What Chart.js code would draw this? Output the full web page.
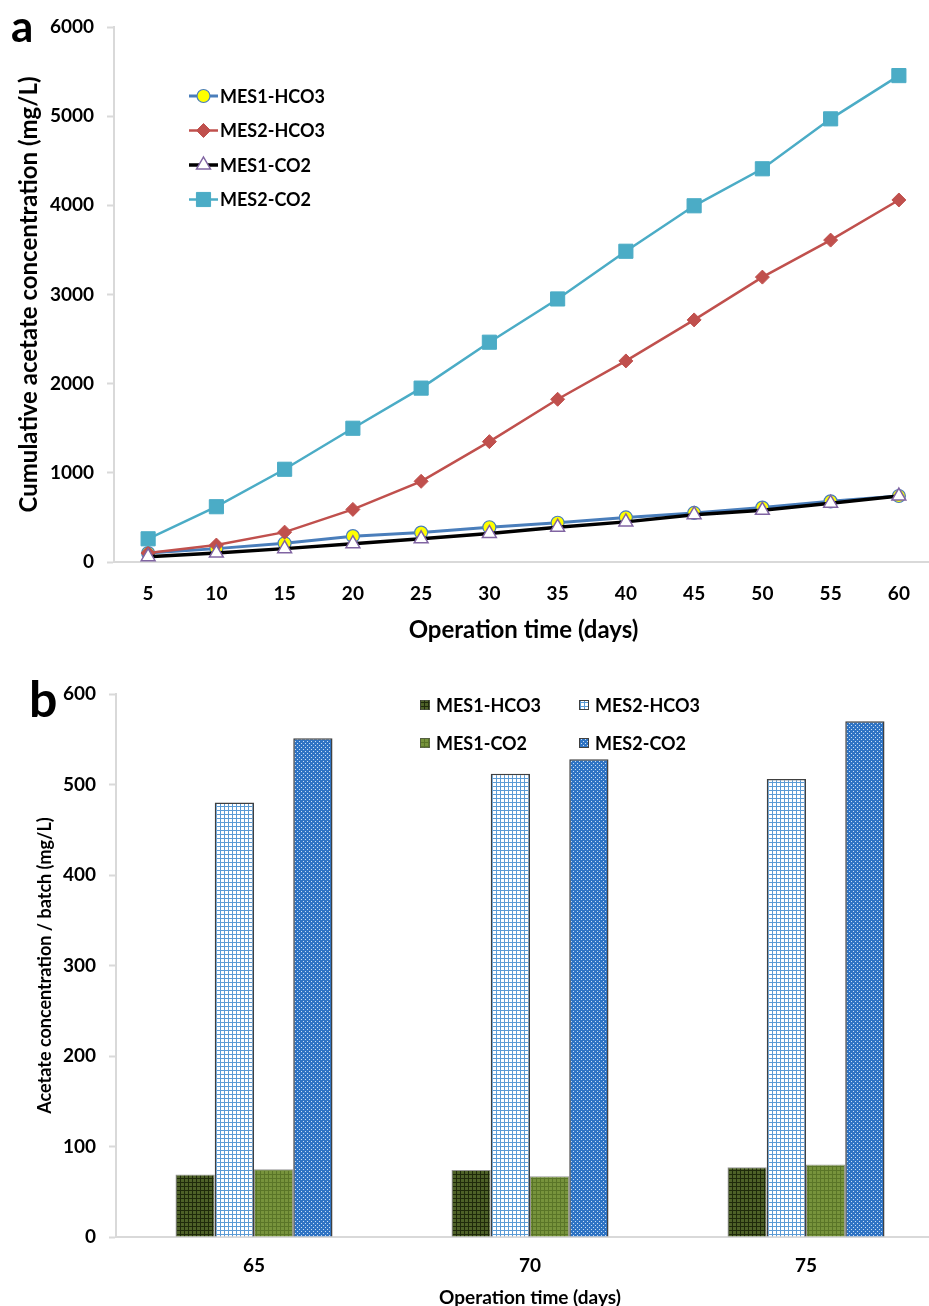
<!DOCTYPE html>
<html>
<head>
<meta charset="utf-8">
<title>Acetate production</title>
<script src="https://cdn.jsdelivr.net/npm/chart.js@4.4.1/dist/chart.umd.min.js"></script>
<style>
    html, body { margin: 0; padding: 0; background: #fff; width: 929px; height: 1306px; overflow: hidden; }
    .panel { position: absolute; left: 0; }
    .tag { position: absolute; font-family: Lato, sans-serif; font-weight: 700; line-height: 1; color: #000; z-index: 2; }
</style>
</head>
<body>
<canvas id="cumulative-chart" class="panel" style="top:0" width="945" height="650"></canvas>
<canvas id="batch-chart" class="panel" style="top:650px" width="950" height="680"></canvas>
<div class="tag" style="left:11px; top:3px; font-size:44px;">a</div>
<div class="tag" style="left:29px; top:673px; font-size:50px;">b</div>

<script>
// ---- data ----
const seriesNames = ['MES1-HCO3', 'MES2-HCO3', 'MES1-CO2', 'MES2-CO2'];

// panel a: cumulative acetate (mg/L)
const days = ['5', '10', '15', '20', '25', '30', '35', '40', '45', '50', '55', '60'];
const mes1Hco3 = [100, 150, 210, 290, 330, 390, 440, 500, 550, 610, 680, 740];
const mes2Hco3 = [100, 190, 335, 590, 905, 1350, 1825, 2255, 2715, 3195, 3610, 4060];
const mes1Co2 = [60, 100, 150, 205, 260, 320, 390, 450, 530, 580, 660, 740];
const mes2Co2 = [260, 620, 1040, 1500, 1950, 2465, 2950, 3485, 3995, 4410, 4970, 5455];

// panel b: acetate per batch (mg/L)
const batchDays = ['65', '70', '75'];
const batchMes1Hco3 = [69, 74, 77];
const batchMes2Hco3 = [480, 512, 506];
const batchMes1Co2 = [75, 67, 80];
const batchMes2Co2 = [551, 528, 570];

// ---- shared look ----
Chart.defaults.font.family = 'Lato, "Open Sans", sans-serif';
Chart.defaults.font.weight = 'bold';
Chart.defaults.color = '#000';

const axisGray = '#d9d9d9';

// fill patterns for the bars (Excel-style hatches)
function gridPattern(bg, line, size) {
    const c = document.createElement('canvas');
    c.width = size;
    c.height = size;
    const g = c.getContext('2d');
    g.fillStyle = bg;
    g.fillRect(0, 0, size, size);
    g.fillStyle = line;
    g.fillRect(0, 0, size, 1);
    g.fillRect(0, 0, 1, size);
    return g.createPattern(c, 'repeat');
}

function checkerPattern(bg, dot) {
    const c = document.createElement('canvas');
    c.width = 4;
    c.height = 4;
    const g = c.getContext('2d');
    g.fillStyle = bg;
    g.fillRect(0, 0, 4, 4);
    g.fillStyle = dot;
    g.fillRect(1, 1, 1, 1);
    g.fillRect(3, 3, 1, 1);
    return g.createPattern(c, 'repeat');
}

const barFills = [
    gridPattern('#4e6128', '#1f2a0b', 4),
    gridPattern('#ffffff', '#5b9bd5', 4),
    gridPattern('#77933c', '#5a7528', 4),
    checkerPattern('#2f74c4', '#c9dff5')
];
const barBorders = ['rgba(80,80,80,0.6)', '#404040', 'rgba(80,80,80,0.6)', '#404040'];

// plain numbers on the value axes (no thousands separator)
const plainTick = value => String(value);

// marker drawing for the legend of panel a
function drawMarker(ctx, style, x, y, r, fill, stroke, lw) {
    ctx.save();
    ctx.beginPath();
    if (style === 'circle') {
        ctx.arc(x, y, r, 0, Math.PI * 2);
    } else if (style === 'rectRot') {
        ctx.moveTo(x, y - r);
        ctx.lineTo(x + r, y);
        ctx.lineTo(x, y + r);
        ctx.lineTo(x - r, y);
    } else if (style === 'triangle') {
        ctx.moveTo(x, y - r);
        ctx.lineTo(x + r * 0.866, y + r * 0.5);
        ctx.lineTo(x - r * 0.866, y + r * 0.5);
    } else {
        const s = r * Math.SQRT1_2;
        ctx.rect(x - s, y - s, 2 * s, 2 * s);
    }
    ctx.closePath();
    ctx.fillStyle = fill;
    ctx.fill();
    ctx.lineWidth = lw;
    ctx.strokeStyle = stroke;
    ctx.stroke();
    ctx.restore();
}

// legend inside the plot of panel a (vertical list)
const lineLegend = {
    id: 'lineLegend',
    afterDraw(chart, args, opts) {
        const ctx = chart.ctx;
        ctx.save();
        ctx.font = 'bold ' + opts.fontSize + 'px ' + Chart.defaults.font.family;
        ctx.textBaseline = 'middle';
        ctx.fillStyle = '#000';
        chart.data.datasets.forEach((ds, i) => {
            const y = opts.y + i * opts.rowGap;
            ctx.beginPath();
            ctx.moveTo(opts.x, y);
            ctx.lineTo(opts.x + opts.lineLength, y);
            ctx.strokeStyle = ds.borderColor;
            ctx.lineWidth = ds.borderWidth;
            ctx.stroke();
            drawMarker(ctx, ds.pointStyle, opts.x + opts.lineLength / 2, y, ds.pointRadius,
                ds.pointBackgroundColor, ds.pointBorderColor, ds.pointBorderWidth);
            ctx.fillText(ds.label, opts.x + opts.lineLength + 2, y + 1);
        });
        ctx.restore();
    }
};

// legend of panel b (2 x 2 grid of pattern swatches)
const barLegend = {
    id: 'barLegend',
    afterDraw(chart, args, opts) {
        const ctx = chart.ctx;
        ctx.save();
        ctx.font = 'bold ' + opts.fontSize + 'px ' + Chart.defaults.font.family;
        ctx.textBaseline = 'middle';
        chart.data.datasets.forEach((ds, i) => {
            const x = opts.cols[i % 2];
            const y = opts.rows[Math.floor(i / 2)];
            const s = opts.box;
            ctx.fillStyle = ds.backgroundColor;
            ctx.fillRect(x, y - s / 2, s, s);
            ctx.strokeStyle = ds.borderColor;
            ctx.lineWidth = 1;
            ctx.strokeRect(x + 0.5, y - s / 2 + 0.5, s - 1, s - 1);
            ctx.fillStyle = '#000';
            ctx.fillText(ds.label, x + s + 6, y + 1);
        });
        ctx.restore();
    }
};

// ---- panel a ----
new Chart(document.getElementById('cumulative-chart'), {
    type: 'line',
    data: {
        labels: days,
        datasets: [
            {
                label: seriesNames[0],
                data: mes1Hco3,
                borderColor: '#4a7ebb',
                borderWidth: 3,
                pointStyle: 'circle',
                pointRadius: 6.5,
                pointBackgroundColor: '#ffff00',
                pointBorderColor: '#4a7ebb',
                pointBorderWidth: 1.2,
                order: 4
            },
            {
                label: seriesNames[1],
                data: mes2Hco3,
                borderColor: '#c0504d',
                borderWidth: 2.5,
                pointStyle: 'rectRot',
                pointRadius: 7,
                pointBackgroundColor: '#c0504d',
                pointBorderColor: '#c0504d',
                pointBorderWidth: 1,
                order: 3
            },
            {
                label: seriesNames[2],
                data: mes1Co2,
                borderColor: '#000000',
                borderWidth: 3.5,
                pointStyle: 'triangle',
                pointRadius: 8,
                pointBackgroundColor: '#ffffff',
                pointBorderColor: '#8064a2',
                pointBorderWidth: 1.5,
                order: 2
            },
            {
                label: seriesNames[3],
                data: mes2Co2,
                borderColor: '#4bacc6',
                borderWidth: 2.5,
                pointStyle: 'rect',
                pointRadius: 10,
                pointBackgroundColor: '#4bacc6',
                pointBorderColor: '#4bacc6',
                pointBorderWidth: 1,
                order: 1
            }
        ]
    },
    options: {
        responsive: false,
        animation: false,
        layout: { padding: { top: 27, right: 12, bottom: 0, left: 0 } },
        elements: { line: { tension: 0 } },
        plugins: {
            legend: { display: false },
            tooltip: { enabled: false },
            lineLegend: { x: 189, y: 96, rowGap: 34.5, lineLength: 29, fontSize: 18 }
        },
        scales: {
            x: {
                offset: true,
                grid: { display: true, drawOnChartArea: false, drawTicks: false },
                border: { color: axisGray, width: 2 },
                ticks: { padding: 20, font: { size: 19 } },
                title: {
                    display: true,
                    text: 'Operation time (days)',
                    font: { size: 24 },
                    padding: { top: 0, bottom: 5.6 }
                },
                afterFit(scale) { scale.height = 88; }
            },
            y: {
                min: 0,
                max: 6000,
                ticks: { stepSize: 1000, padding: 13, font: { size: 19 }, callback: plainTick },
                grid: { drawOnChartArea: false, tickLength: 7, color: axisGray, tickWidth: 2 },
                border: { color: axisGray, width: 2 },
                title: {
                    display: true,
                    text: 'Cumulative acetate concentration (mg/L)',
                    font: { size: 24 },
                    padding: { top: 14.6, bottom: 0 }
                },
                afterFit(scale) { scale.width = 114; }
            }
        }
    },
    plugins: [lineLegend]
});

// ---- panel b ----
const batchSeries = [batchMes1Hco3, batchMes2Hco3, batchMes1Co2, batchMes2Co2];

new Chart(document.getElementById('batch-chart'), {
    type: 'bar',
    data: {
        labels: batchDays,
        datasets: batchSeries.map((values, i) => ({
            label: seriesNames[i],
            data: values,
            backgroundColor: barFills[i],
            borderColor: barBorders[i],
            borderWidth: i % 2 ? 1.5 : 1,
            barPercentage: 1,
            categoryPercentage: 0.569
        }))
    },
    options: {
        responsive: false,
        animation: false,
        layout: { padding: { top: 44, right: 6, bottom: 0, left: 0 } },
        plugins: {
            legend: { display: false },
            tooltip: { enabled: false },
            barLegend: { cols: [420, 579], rows: [55, 93], box: 10, fontSize: 18 }
        },
        scales: {
            x: {
                grid: { display: true, drawOnChartArea: false, drawTicks: false },
                border: { color: axisGray, width: 2 },
                ticks: { padding: 17.6, font: { size: 19 } },
                title: {
                    display: true,
                    text: 'Operation time (days)',
                    font: { size: 19 },
                    padding: { top: 0, bottom: 20.6 }
                },
                afterFit(scale) { scale.height = 93; }
            },
            y: {
                min: 0,
                max: 600,
                ticks: { stepSize: 100, padding: 13, font: { size: 19 }, callback: plainTick },
                grid: { drawOnChartArea: false, tickLength: 7, color: axisGray, tickWidth: 2 },
                border: { color: axisGray, width: 2 },
                title: {
                    display: true,
                    text: 'Acetate concentration / batch (mg/L)',
                    font: { size: 18 },
                    padding: { top: 34.2, bottom: 0 }
                },
                afterFit(scale) { scale.width = 116; }
            }
        }
    },
    plugins: [barLegend]
});
</script>
</body>
</html>
